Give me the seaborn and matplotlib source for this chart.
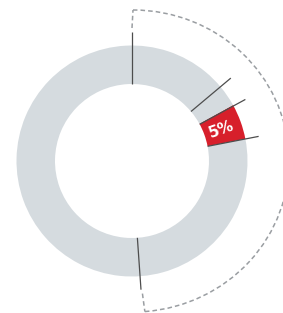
import numpy as np
import matplotlib
matplotlib.use('Agg')
import matplotlib.pyplot as plt
from matplotlib.patches import Arc
import seaborn as sns

sns.set_style('white')

# Data
labels = ['Highlight', 'Rest']
shares = [5, 95]
colors = ['#d71f2b', '#d5dbdf']
start_angle = 11          # red wedge begins here (degrees)
marker_angles = [90, 40, 28.5, 11, -86]   # radial tick lines
bracket_span = (-85.5, 90)  # dashed bracket around the ring

R_OUT, R_IN = 115.5, 77
BR_W, BR_H = 156, 151     # bracket semi-axes
BR_CX = 1

fig = plt.figure(figsize=(2.83, 3.13), dpi=100)
ax = fig.add_axes([0, 0, 1, 1])

ax.pie(shares, colors=colors, startangle=start_angle, counterclock=True,
       radius=R_OUT, center=(0, 0), frame=False,
       wedgeprops=dict(width=R_OUT - R_IN, linewidth=0))
ax.set_xlim(-132, 151)
ax.set_ylim(-152, 161)
ax.set_aspect('equal')
ax.axis('off')

# radial tick lines
for a in marker_angles:
    t = np.deg2rad(a)
    ax.plot([R_IN * np.cos(t), 129 * np.cos(t)], [R_IN * np.sin(t), 129 * np.sin(t)],
            color='#4d4d4d', lw=0.9, solid_capstyle='butt')

# dashed bracket
dash = dict(color='#9a9ea2', lw=1.1, linestyle=(0, (3, 2)))
ax.add_patch(Arc((BR_CX, 0), 2 * BR_W, 2 * BR_H, theta1=bracket_span[0],
                 theta2=bracket_span[1], **dash))
for a in bracket_span:
    t = np.deg2rad(a)
    # point on the ellipse at geometric angle a
    k = 1 / np.sqrt((np.cos(t) / BR_W) ** 2 + (np.sin(t) / BR_H) ** 2)
    ax.plot([133 * np.cos(t), BR_CX + k * np.cos(t)], [133 * np.sin(t), k * np.sin(t)], **dash)

# label in red wedge
mid = np.deg2rad(start_angle + shares[0] / sum(shares) * 360 / 2)
rm = (R_OUT + R_IN) / 2
ax.text(rm * np.cos(mid) - 1, rm * np.sin(mid) - 1, f'{shares[0]}%', color='white',
        fontsize=11, fontweight='bold', ha='center', va='center',
        rotation=np.rad2deg(mid))

fig.savefig('out.png', dpi=100)
